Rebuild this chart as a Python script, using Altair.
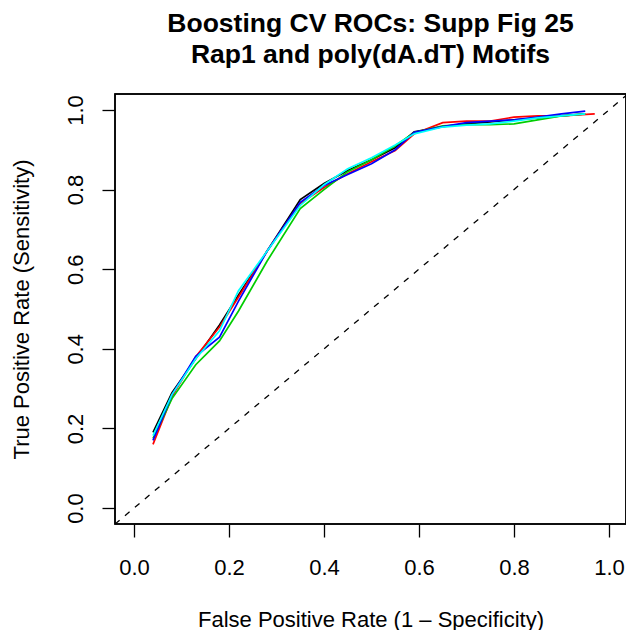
import altair as alt
import pandas as pd

# ---- data ----
FPR = [0.04, 0.08, 0.13, 0.18, 0.22, 0.28, 0.35, 0.40, 0.45, 0.50,
       0.55, 0.59, 0.65, 0.70, 0.75, 0.80, 0.85, 0.90, 0.95]
FPR_RED = [0.04, 0.08, 0.13, 0.18, 0.22, 0.28, 0.35, 0.40, 0.45, 0.50,
           0.55, 0.59, 0.65, 0.70, 0.75, 0.80, 0.85, 0.90, 0.97]
TPR_BLACK = [0.19, 0.29, 0.375, 0.46, 0.535, 0.645, 0.775, 0.815, 0.848, 0.875,
             0.905, 0.945, 0.958, 0.965, 0.97, 0.975, 0.98, 0.985, 0.99]
TPR_RED = [0.16, 0.28, 0.38, 0.455, 0.53, 0.645, 0.765, 0.805, 0.84, 0.87,
           0.898, 0.94, 0.968, 0.972, 0.972, 0.982, 0.985, 0.985, 0.99]
TPR_GREEN = [0.175, 0.275, 0.36, 0.42, 0.495, 0.62, 0.752, 0.80, 0.845, 0.875,
             0.91, 0.943, 0.96, 0.963, 0.963, 0.965, 0.975, 0.985, 0.99]
TPR_BLUE = [0.17, 0.285, 0.381, 0.429, 0.52, 0.645, 0.768, 0.81, 0.838, 0.865,
            0.90, 0.944, 0.958, 0.968, 0.972, 0.975, 0.982, 0.99, 0.997]
TPR_CYAN = [0.182, 0.285, 0.375, 0.445, 0.546, 0.645, 0.76, 0.812, 0.852, 0.88,
            0.912, 0.94, 0.957, 0.962, 0.965, 0.972, 0.98, 0.985, 0.99]

SERIES = [
    ("black", FPR, TPR_BLACK),
    ("red", FPR_RED, TPR_RED),
    ("#00CD00", FPR, TPR_GREEN),
    ("blue", FPR, TPR_BLUE),
    ("cyan", FPR, TPR_CYAN),
]
DIAG = [-0.04, 1.04]
TICKS = [0.0, 0.2, 0.4, 0.6, 0.8, 1.0]

TITLE = ["Boosting CV ROCs: Supp Fig 25", "Rap1 and poly(dA.dT) Motifs"]
XTITLE = "False Positive Rate (1 \u2013 Specificity)"
YTITLE = "True Positive Rate (Sensitivity)"

FONT = "Liberation Sans"
FS = 22
W, H = 511, 430

xscale = alt.Scale(domain=[-0.04, 1.0358], nice=False, zero=False)
yscale = alt.Scale(domain=[-0.04, 1.04], nice=False, zero=False)

xaxis = alt.Axis(values=TICKS, format=".1f", title=XTITLE, grid=False, domain=False,
                 tickColor="black", tickWidth=1.3, tickSize=13,
                 labelFont=FONT, labelFontSize=FS, labelColor="black",
                 labelPadding=20, labelBaseline="top", labelFlush=False,
                 titleFont=FONT, titleFontSize=FS, titleFontWeight="normal",
                 titleColor="black", titleBaseline="alphabetic", titleY=102,
                 titleX=W / 2, titleAlign="center")
yaxis = alt.Axis(values=TICKS, format=".1f", title=YTITLE, grid=False, domain=False,
                 tickColor="black", tickWidth=1.3, tickSize=13,
                 labelFont=FONT, labelFontSize=FS, labelColor="black",
                 labelAngle=-90, labelAlign="center", labelBaseline="alphabetic",
                 labelPadding=20, labelFlush=False,
                 titleFont=FONT, titleFontSize=FS, titleFontWeight="normal",
                 titleColor="black", titleAngle=-90, titleAlign="center",
                 titleBaseline="alphabetic", titleX=-87, titleY=H / 2)

diag_df = pd.DataFrame({"x": DIAG, "y": DIAG})
base = alt.Chart(diag_df).mark_line(
    color="black", strokeWidth=1.3, strokeDash=[6, 7], clip=True
).encode(
    x=alt.X("x:Q", scale=xscale, axis=xaxis),
    y=alt.Y("y:Q", scale=yscale, axis=yaxis),
)

layers = [base]
for col, xs, ys in SERIES:
    df = pd.DataFrame({"x": xs, "y": ys})
    layers.append(
        alt.Chart(df).mark_line(color=col, strokeWidth=1.7, clip=True).encode(
            x=alt.X("x:Q", scale=xscale),
            y=alt.Y("y:Q", scale=yscale),
        )
    )

# plot frame (box around the plotting region)
frame = alt.Chart(diag_df).mark_rect(
    fillOpacity=0, stroke="black", strokeWidth=1.5
).encode(
    x=alt.value(0), x2=alt.value(W), y=alt.value(0), y2=alt.value(H)
)
layers.append(frame)

chart = alt.layer(*layers).properties(
    width=W, height=H,
    background="white",
    title=alt.TitleParams(text=TITLE, font=FONT, fontSize=26.5, fontWeight="bold",
                          color="black", anchor="middle", frame="group",
                          baseline="bottom", lineHeight=31, offset=-2),
    autosize=alt.AutoSizeParams(type="none"),
    padding={"left": 115, "top": 94, "right": 0, "bottom": 106},
).configure_view(stroke=None)

chart.save("out.html", embed_options={"renderer": "svg", "actions": False})
